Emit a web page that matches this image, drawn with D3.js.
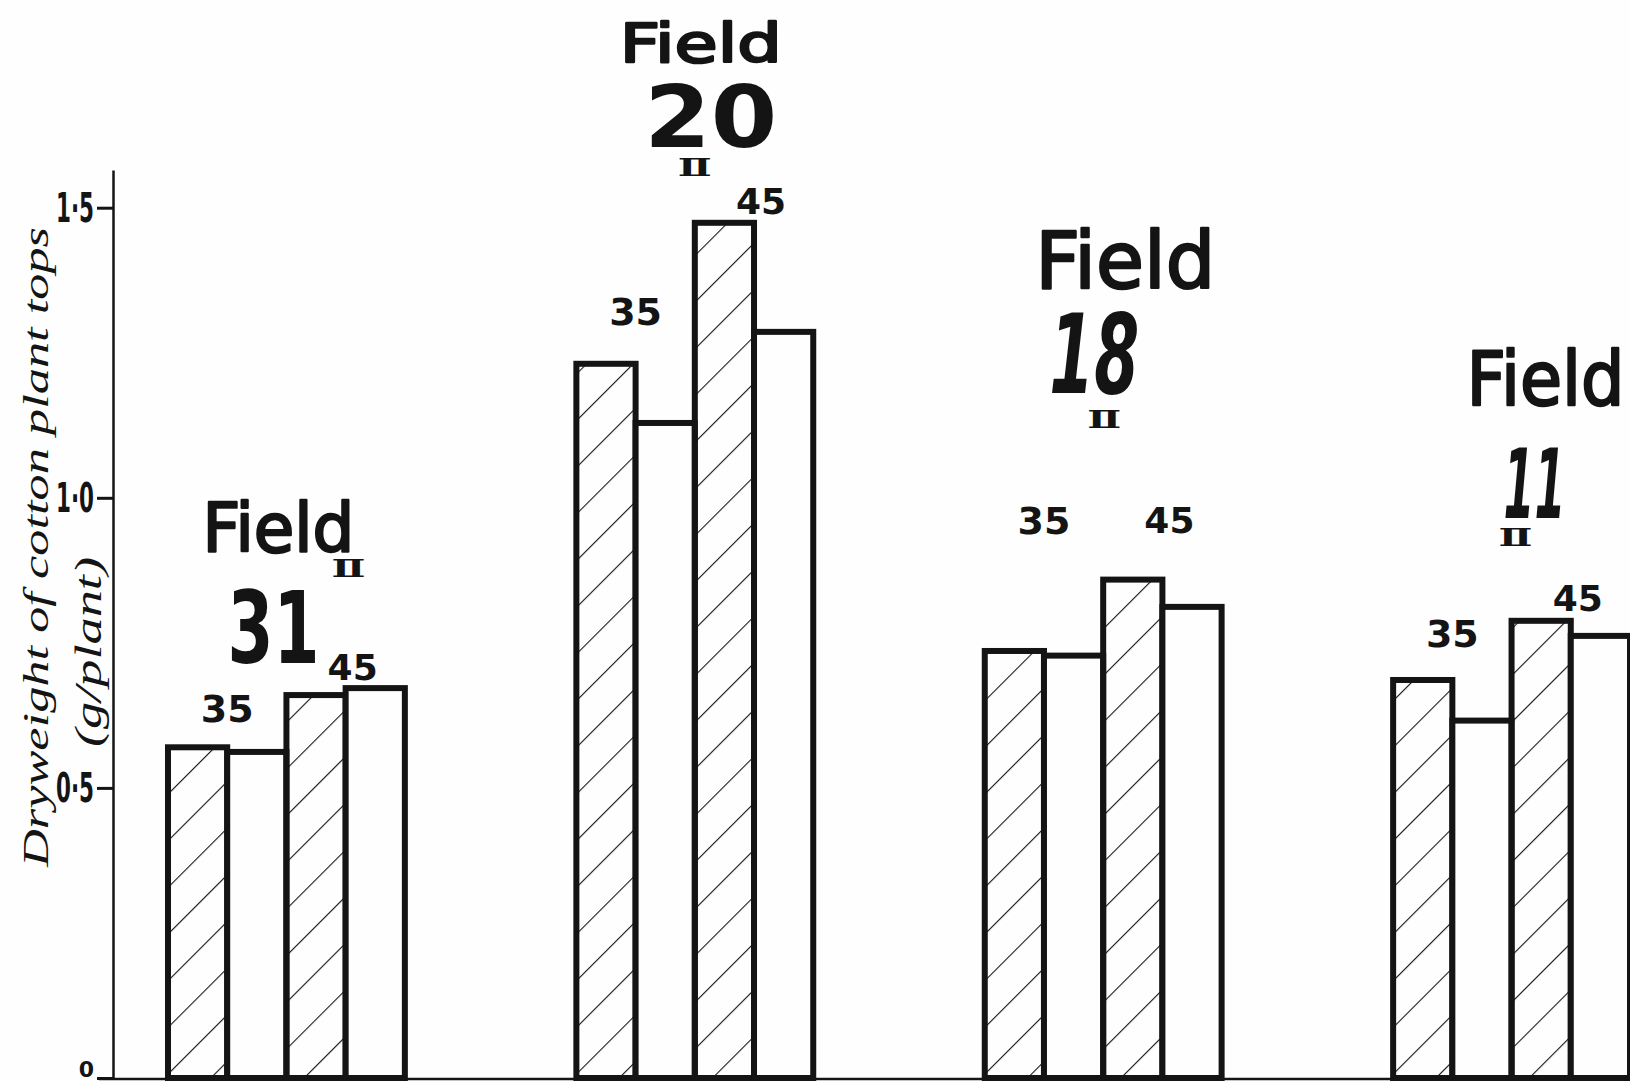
<!DOCTYPE html>
<html>
<head>
<meta charset="utf-8">
<script src="https://cdn.jsdelivr.net/npm/d3@7"></script>
<style>
    body { margin: 0; background: #fefefe; }
    svg { display: block; }
</style>
</head>
<body>
<div id="chart"></div>
<script>

// fields (groups) and the four bars in each group
var fields = ["31", "20", "18", "11"];
var bar_keys = ["35_hatched", "35_open", "45_hatched", "45_open"];

// dry weight of cotton plant tops, g/plant
var v_35_hatched = [0.570, 1.231, 0.736, 0.686];
var v_35_open    = [0.562, 1.129, 0.728, 0.616];
var v_45_hatched = [0.660, 1.474, 0.859, 0.788];
var v_45_open    = [0.672, 1.286, 0.812, 0.762];

var y_ticks = [0, 0.5, 1.0, 1.5];

var df = fields.map(function (f, i) {
    return {
        field: f,
        "35_hatched": v_35_hatched[i],
        "35_open": v_35_open[i],
        "45_hatched": v_45_hatched[i],
        "45_open": v_45_open[i]
    };
});

// hand placed annotations: offsets from group centre, heights in axis units
var notes = [
    {field: "31", fdx: -8, fy: 0.907, fs: 67, fw: 152, ndx: -13, ny: 0.716, ns: 100, nw: 92, slant: false, rdx: 62, ry: 0.878, l35: 0.638, l45: 0.709},
    {field: "20", fdx: 6,  fy: 1.752, fs: 54, fw: 162, ndx: 16,  ny: 1.605, ns: 85,  nw: 133, slant: false, rdx: 0, ry: 1.570, l35: 1.322, l45: 1.512},
    {field: "18", fdx: 22, fy: 1.362, fs: 78, fw: 180, ndx: -9,  ny: 1.181, ns: 110, nw: 90, slant: true, rdx: 1, ry: 1.136, l35: 0.962, l45: 0.962},
    {field: "11", fdx: 34, fy: 1.160, fs: 75, fw: 158, ndx: 23,  ny: 0.966, ns: 97,  nw: 62, slant: true, rdx: 4, ry: 0.932, l35: 0.767, l45: 0.828}
];

var width = 1630, height = 1081;
var ink = "#141414";

var svg = d3.select("#chart")
    .append("svg")
    .attr("width", width)
    .attr("height", height);

svg.append("rect")
    .attr("width", width)
    .attr("height", height)
    .style("fill", "#fefefe");

var defs = svg.append("defs");
defs.append("pattern")
    .attr("id", "hatch")
    .attr("patternUnits", "userSpaceOnUse")
    .attr("width", 33)
    .attr("height", 10)
    .attr("patternTransform", "rotate(45)")
    .append("line")
    .attr("x1", 0).attr("y1", 0)
    .attr("x2", 0).attr("y2", 10)
    .style("stroke", ink)
    .style("stroke-width", 2.2);

var axis_x = 113;

var yScale = d3.scaleLinear()
    .domain([0, 1.565])
    .range([1078, 170]);

var xScale = d3.scaleBand()
    .domain(fields)
    .range([168, 1630])
    .paddingInner(0.42);

var xInner = d3.scaleBand()
    .domain(bar_keys)
    .range([0, xScale.bandwidth()]);

// baseline
svg.append("line")
    .attr("x1", axis_x - 14)
    .attr("x2", width)
    .attr("y1", yScale(0) + 1)
    .attr("y2", yScale(0) + 1)
    .style("stroke", ink)
    .style("stroke-width", 2.5);

// y axis
var y_axis = svg.append("g")
    .attr("class", "y-axis")
    .attr("transform", "translate(" + axis_x + ",0)")
    .call(d3.axisLeft(yScale)
        .tickValues(y_ticks)
        .tickSize(16)
        .tickSizeOuter(0)
        .tickPadding(3)
        .tickFormat(function (d) {
            return d === 0 ? "0" : d3.format(".1f")(d).replace(".", "·");
        })
    );

y_axis.select(".domain").style("stroke", ink).style("stroke-width", 2.5);
y_axis.selectAll(".tick line").style("stroke", ink).style("stroke-width", 3);
y_axis.selectAll(".tick text")
    .attr("textLength", function (d) { return d === 0 ? null : 38; })
    .attr("lengthAdjust", "spacingAndGlyphs")
    .style("font-family", "DejaVu Sans")
    .style("font-weight", "bold")
    .style("font-size", function (d) { return d === 0 ? "22px" : "40px"; })
    .style("fill", ink)
    .attr("dy", function (d) { return d === 0 ? "-0.05em" : "0.34em"; });

// y label
svg.append("text")
    .attr("transform", "translate(48," + 547 + ") rotate(-90)")
    .attr("text-anchor", "middle")
    .attr("textLength", 640)
    .attr("lengthAdjust", "spacingAndGlyphs")
    .style("font-family", "Liberation Serif")
    .style("font-style", "italic")
    .style("font-size", "36px")
    .style("fill", ink)
    .text("Dryweight of cotton plant tops");

svg.append("text")
    .attr("transform", "translate(101," + 652 + ") rotate(-90)")
    .attr("text-anchor", "middle")
    .attr("textLength", 190)
    .attr("lengthAdjust", "spacingAndGlyphs")
    .style("font-family", "Liberation Serif")
    .style("font-style", "italic")
    .style("font-size", "38px")
    .style("fill", ink)
    .text("(g/plant)");

// bars
var groups = svg.selectAll("g.field")
    .data(df)
    .enter()
    .append("g")
    .attr("class", "field")
    .attr("transform", function (d) { return "translate(" + xScale(d.field) + ",0)"; });

groups.selectAll("rect")
    .data(function (d) {
        return bar_keys.map(function (k) { return {key: k, value: d[k]}; });
    })
    .enter()
    .append("rect")
    .attr("x", function (d) { return xInner(d.key); })
    .attr("width", xInner.bandwidth())
    .attr("y", function (d) { return yScale(d.value); })
    .attr("height", function (d) { return yScale(0) - yScale(d.value); })
    .style("fill", function (d) { return d.key.indexOf("hatched") > -1 ? "url(#hatch)" : "#fefefe"; })
    .style("stroke", ink)
    .style("stroke-width", 6);

// annotations
function centre(f) { return xScale(f) + xScale.bandwidth() / 2; }

var ann = svg.selectAll("g.note")
    .data(notes)
    .enter()
    .append("g")
    .attr("class", "note")
    .style("fill", ink);

ann.append("text")
    .attr("x", function (d) { return centre(d.field) + d.fdx; })
    .attr("y", function (d) { return yScale(d.fy); })
    .attr("text-anchor", "middle")
    .attr("textLength", function (d) { return d.fw; })
    .attr("lengthAdjust", "spacingAndGlyphs")
    .style("font-family", "DejaVu Sans")
    .style("font-weight", "normal")
    .style("font-size", function (d) { return d.fs + "px"; })
    .style("stroke", ink)
    .style("stroke-width", 2.4)
    .style("stroke-linejoin", "round")
    .text("Field");

ann.append("text")
    .attr("x", function (d) { return centre(d.field) + d.ndx; })
    .attr("y", function (d) { return yScale(d.ny); })
    .attr("text-anchor", "middle")
    .attr("textLength", function (d) { return d.nw; })
    .attr("lengthAdjust", "spacingAndGlyphs")
    .style("font-family", "DejaVu Sans")
    .style("font-weight", "bold")
    .style("font-style", function (d) { return d.slant ? "oblique" : "normal"; })
    .style("font-size", function (d) { return d.ns + "px"; })
    .text(function (d) { return d.field; });

ann.append("text")
    .attr("x", function (d) { return centre(d.field) + d.rdx; })
    .attr("y", function (d) { return yScale(d.ry); })
    .attr("dy", "0.35em")
    .attr("text-anchor", "middle")
    .attr("textLength", 34)
    .attr("lengthAdjust", "spacingAndGlyphs")
    .style("font-family", "DejaVu Serif")
    .style("font-weight", "bold")
    .style("font-size", "25px")
    .text("Ⅱ");

ann.append("text")
    .attr("x", function (d) { return xScale(d.field) + xInner("35_open"); })
    .attr("y", function (d) { return yScale(d.l35); })
    .attr("dy", "0.36em")
    .attr("text-anchor", "middle")
    .style("font-family", "DejaVu Sans")
    .style("font-weight", "bold")
    .style("font-size", "38px")
    .text("35");

ann.append("text")
    .attr("x", function (d) { return xScale(d.field) + xInner("45_open") + 7; })
    .attr("y", function (d) { return yScale(d.l45); })
    .attr("dy", "0.36em")
    .attr("text-anchor", "middle")
    .style("font-family", "DejaVu Sans")
    .style("font-weight", "bold")
    .style("font-size", "36px")
    .text("45");

</script>
</body>
</html>
